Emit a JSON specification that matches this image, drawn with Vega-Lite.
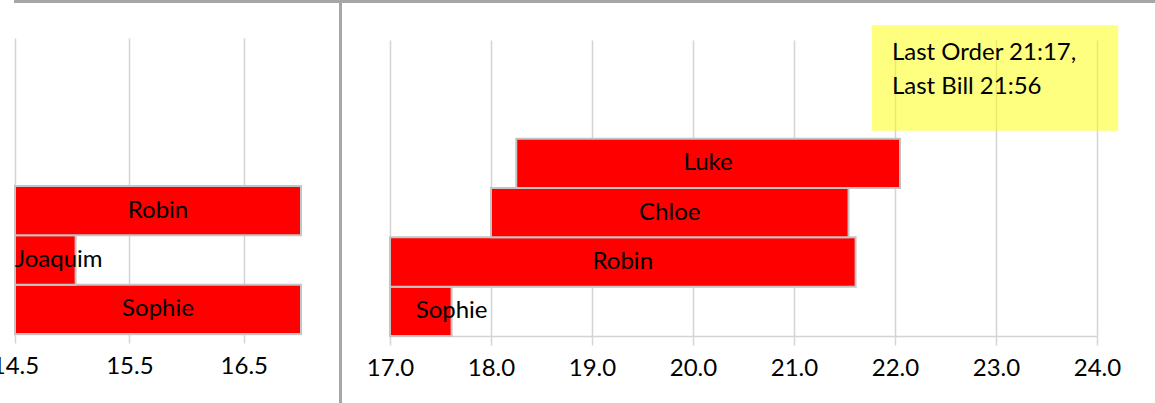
{
  "$schema": "https://vega.github.io/schema/vega-lite/v6.json",
  "padding": {"left": -9, "top": 0, "right": 0, "bottom": 0},
  "background": "white",
  "config": {
    "font": "Lato",
    "view": {"stroke": null},
    "axis": {
      "gridColor": "#d4d4d4", "gridWidth": 1.5,
      "domainColor": "#d4d4d4", "domainWidth": 1.5,
      "tickColor": "#d4d4d4", "tickWidth": 1.5, "tickSize": 9,
      "labelFont": "Lato", "labelFontSize": 24, "labelColor": "#000000", "labelPadding": 11,
      "labelFlush": false,
      "title": null
    }
  },
  "spacing": 0,
  "vconcat": [
    {
      "width": 1158,
      "height": 1,
      "view": {"stroke": "#a6a6a6", "strokeWidth": 2},
      "data": {"values": []},
      "mark": {"type": "text"},
      "encoding": {"text": {"field": "name"}}
    },
    {
      "spacing": 24,
      "hconcat": [
        {
          "spacing": 37,
          "hconcat": [
            {
              "spacing": 0,
              "vconcat": [
                {
                  "width": 20,
                  "height": 34,
                  "data": {"values": []},
                  "mark": {"type": "text"},
                  "encoding": {"text": {"field": "name"}}
                },
                {
                  "width": 286,
                  "height": 296,
                  "data": {"values": [
                    {"name": "Sophie", "slot": 1, "start": 14.5, "end": 17.0},
                    {"name": "Joaquim", "slot": 2, "start": 14.5, "end": 15.03},
                    {"name": "Robin", "slot": 3, "start": 14.5, "end": 17.0}
                  ]},
                  "encoding": {
                    "y": {"field": "slot", "type": "ordinal", "scale": {"domain": [6, 5, 4, 3, 2, 1], "paddingInner": 0, "paddingOuter": 0}, "axis": null}
                  },
                  "layer": [
                    {
                      "mark": {"type": "bar", "fill": "#ff0000", "stroke": "#c4c4c4", "strokeWidth": 2},
                      "encoding": {
                        "x": {"field": "start", "type": "quantitative", "scale": {"domain": [14.5, 17.0], "nice": false, "zero": false},
                              "axis": {"values": [14.5, 15.5, 16.5], "format": ".1f", "grid": true}},
                        "x2": {"field": "end"}
                      }
                    },
                    {
                      "transform": [
                        {"filter": "datum.end - datum.start >= 1"},
                        {"fold": ["start", "end"], "as": ["edge", "pos"]}
                      ],
                      "mark": {"type": "text", "fontSize": 24, "color": "#000000", "baseline": "middle"},
                      "encoding": {
                        "x": {"aggregate": "mean", "field": "pos", "type": "quantitative"},
                        "text": {"field": "name"}
                      }
                    },
                    {
                      "transform": [{"filter": "datum.end - datum.start < 1"}],
                      "mark": {"type": "text", "fontSize": 24, "color": "#000000", "baseline": "middle", "align": "left"},
                      "encoding": {
                        "x": {"field": "start", "type": "quantitative"},
                        "text": {"field": "name"}
                      }
                    }
                  ]
                }
              ]
            },
            {
              "width": 1,
              "height": 401,
              "view": {"stroke": "#a6a6a6", "strokeWidth": 2},
              "data": {"values": []},
              "mark": {"type": "text"},
              "encoding": {"text": {"field": "name"}}
            }
          ]
        },
        {
          "spacing": 0,
          "vconcat": [
            {
              "width": 20,
              "height": 21,
              "data": {"values": []},
              "mark": {"type": "text"},
              "encoding": {"text": {"field": "name"}}
            },
            {
              "width": 707,
              "height": 296,
              "resolve": {"scale": {"y": "independent"}},
              "layer": [
                {
                  "data": {"values": [
                    {"name": "Sophie", "slot": 1, "start": 17.0, "end": 17.61},
                    {"name": "Robin", "slot": 2, "start": 17.0, "end": 21.61},
                    {"name": "Chloe", "slot": 3, "start": 18.0, "end": 21.54},
                    {"name": "Luke", "slot": 4, "start": 18.25, "end": 22.05}
                  ]},
                  "encoding": {
                    "y": {"field": "slot", "type": "ordinal", "scale": {"domain": [6, 5, 4, 3, 2, 1], "paddingInner": 0, "paddingOuter": 0}, "axis": null}
                  },
                  "layer": [
                    {
                      "mark": {"type": "bar", "fill": "#ff0000", "stroke": "#c4c4c4", "strokeWidth": 2},
                      "encoding": {
                        "x": {"field": "start", "type": "quantitative", "scale": {"domain": [17.0, 24.0], "nice": false, "zero": false},
                              "axis": {"values": [17, 18, 19, 20, 21, 22, 23, 24], "format": ".1f", "grid": true}},
                        "x2": {"field": "end"}
                      }
                    },
                    {
                      "transform": [
                        {"filter": "datum.end - datum.start >= 1"},
                        {"fold": ["start", "end"], "as": ["edge", "pos"]}
                      ],
                      "mark": {"type": "text", "fontSize": 24, "color": "#000000", "baseline": "middle"},
                      "encoding": {
                        "x": {"aggregate": "mean", "field": "pos", "type": "quantitative"},
                        "text": {"field": "name"}
                      }
                    },
                    {
                      "transform": [{"filter": "datum.end - datum.start < 1"}],
                      "mark": {"type": "text", "fontSize": 24, "color": "#000000", "baseline": "middle", "align": "center"},
                      "encoding": {
                        "x": {"field": "end", "type": "quantitative"},
                        "text": {"field": "name"}
                      }
                    }
                  ]
                },
                {
                  "data": {"values": [{"note": "Last Order 21:17,\nLast Bill 21:56"}]},
                  "layer": [
                    {
                      "mark": {"type": "rect", "fill": "#ffff00", "opacity": 0.5},
                      "encoding": {
                        "x": {"datum": 21.77, "type": "quantitative"},
                        "x2": {"datum": 24.21},
                        "y": {"datum": 4.16, "type": "quantitative", "scale": {"domain": [0, 6], "nice": false, "zero": false}, "axis": null},
                        "y2": {"datum": 6.3}
                      }
                    },
                    {
                      "mark": {"type": "text", "fontSize": 24, "color": "#000000", "align": "left", "baseline": "top", "lineBreak": "\n", "lineHeight": 34},
                      "encoding": {
                        "x": {"datum": 21.97, "type": "quantitative"},
                        "y": {"datum": 5.97, "type": "quantitative"},
                        "text": {"field": "note"}
                      }
                    }
                  ]
                }
              ]
            }
          ]
        }
      ]
    }
  ]
}
